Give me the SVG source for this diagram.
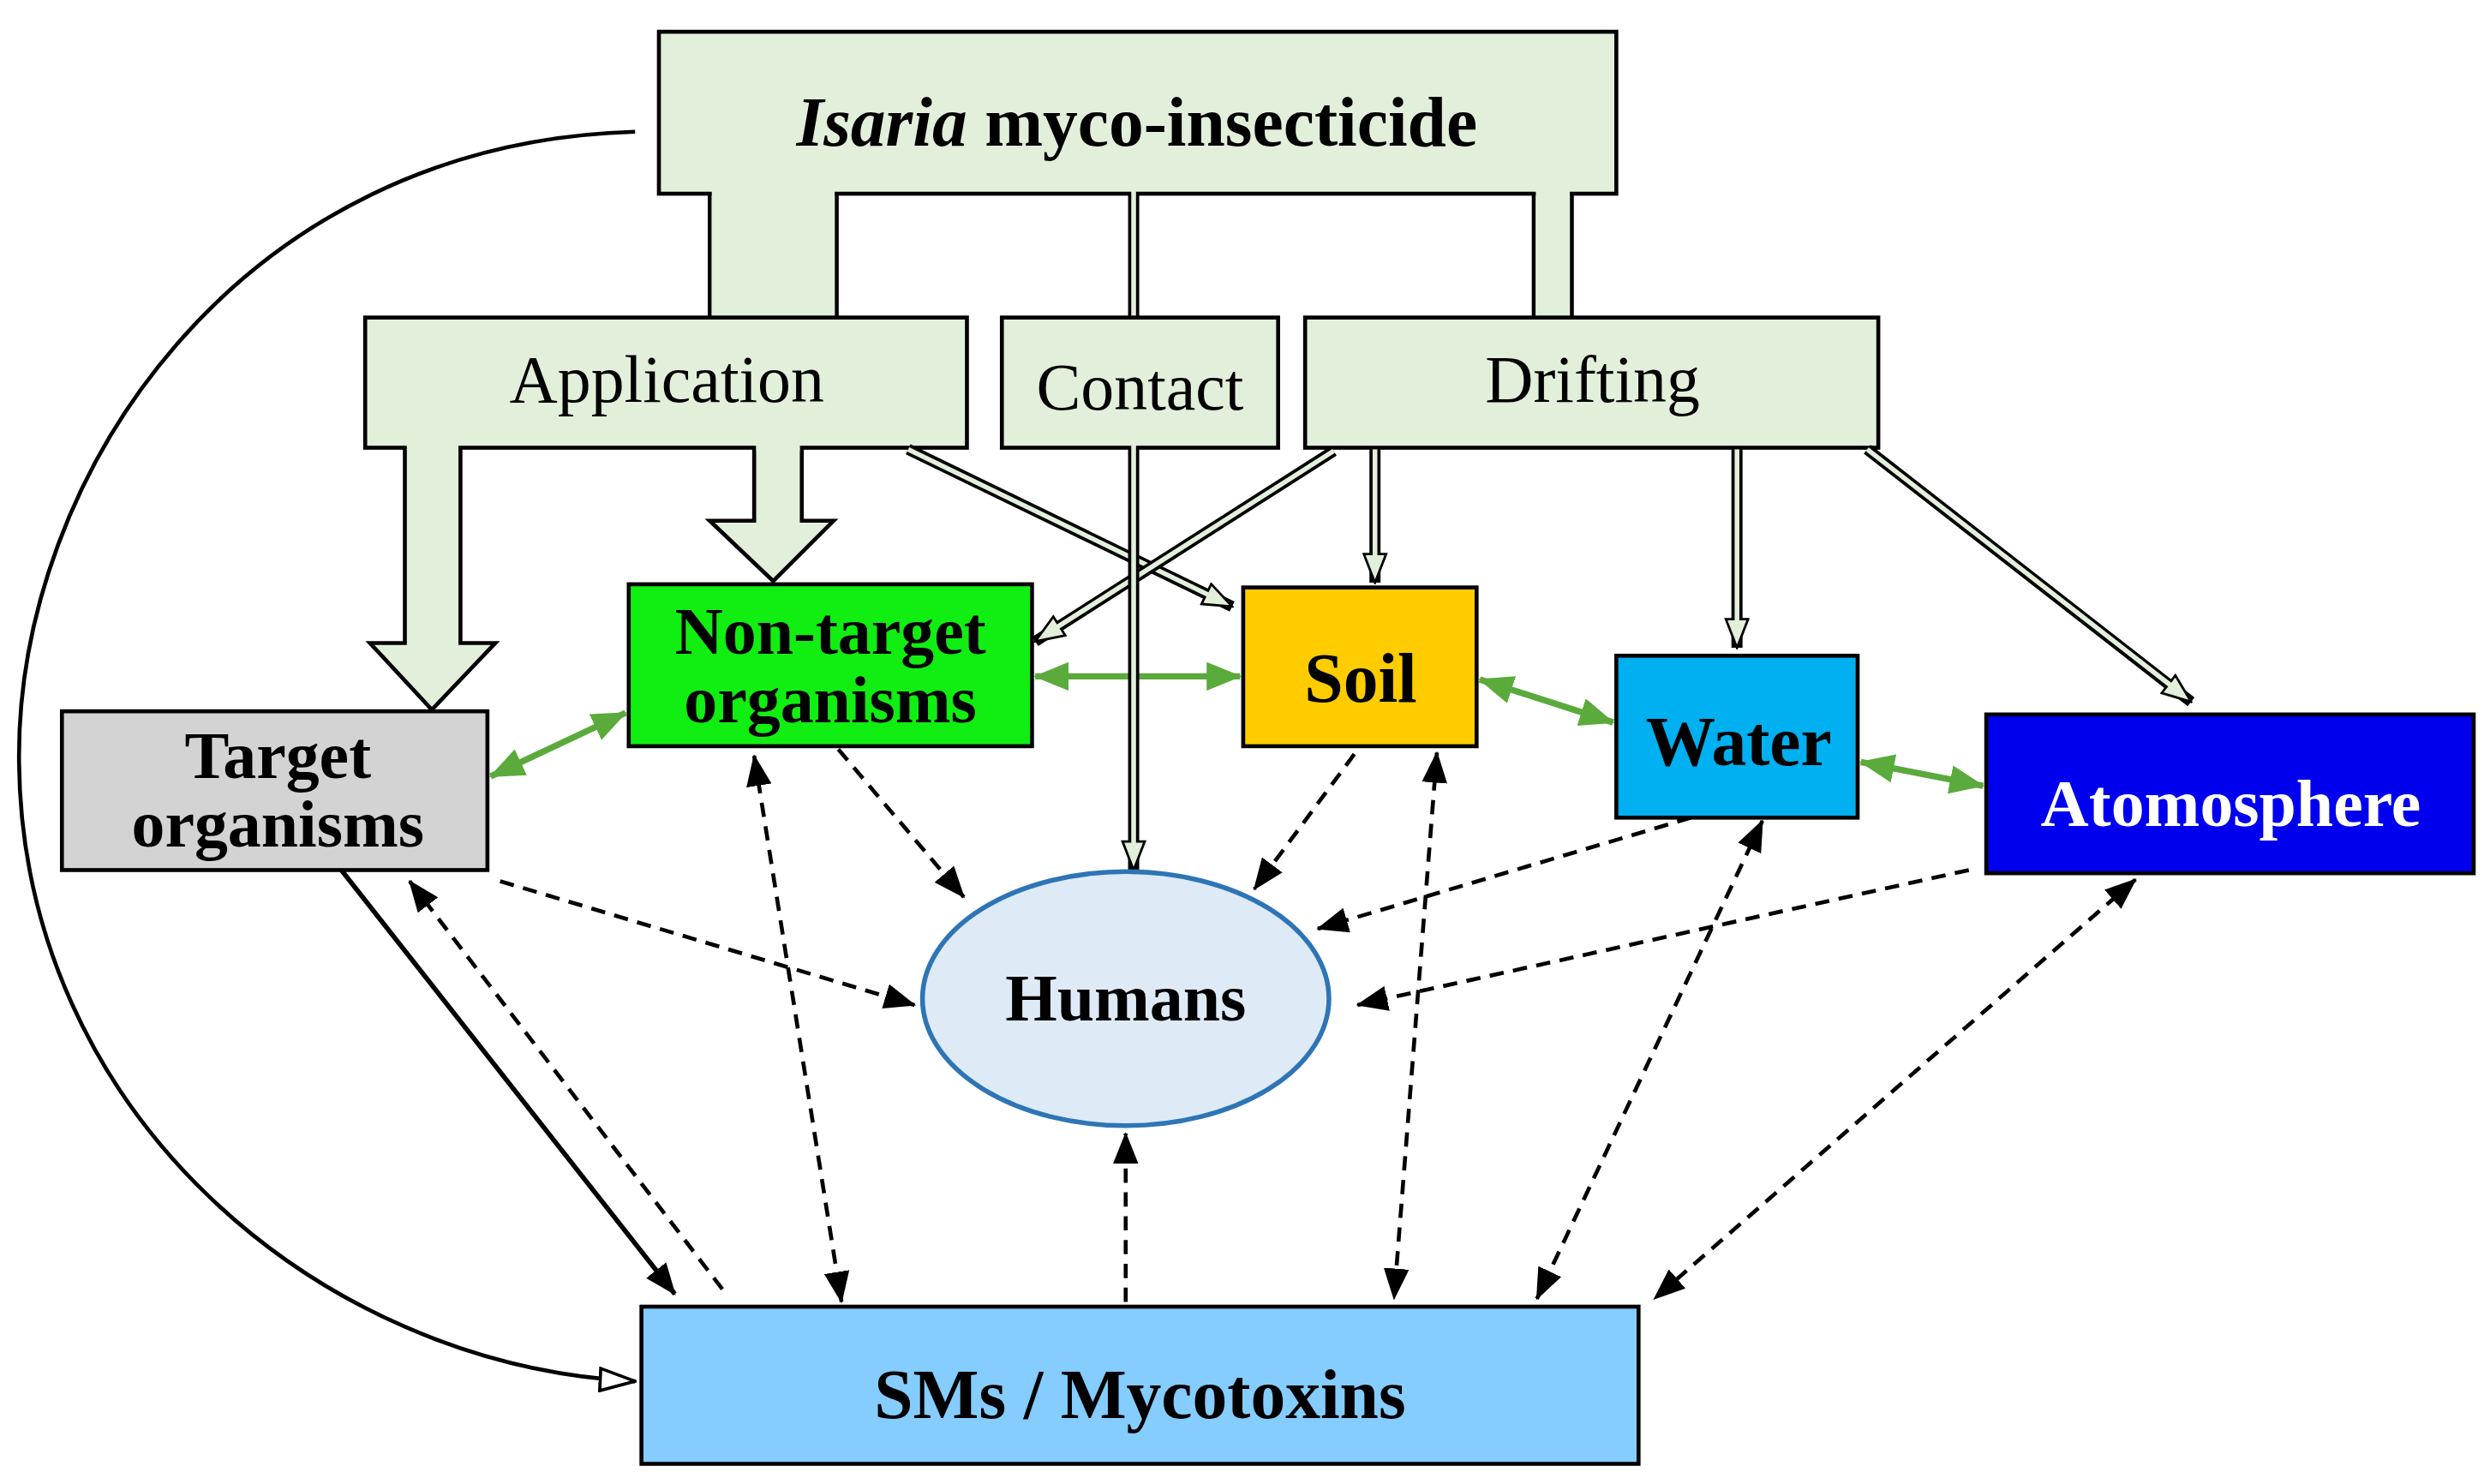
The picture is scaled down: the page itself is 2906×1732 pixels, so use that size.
<svg xmlns="http://www.w3.org/2000/svg" width="2906" height="1732" viewBox="0 0 2906 1732">
<defs>
<style>
.blk{fill:#e2efda;stroke:#000;stroke-width:2.5}
.fl{fill:#e2efda;stroke:none}
.t{font-family:"Liberation Serif",serif;text-anchor:middle}
.b{font-weight:bold}
.ds{fill:none;stroke:#000;stroke-width:2.5;stroke-dasharray:9,6}
.gr{fill:none;stroke:#5aaa3c;stroke-width:4;marker-start:url(#ga);marker-end:url(#ga)}
.h1{fill:none;stroke:#000;stroke-width:7}
.h2{fill:none;stroke:#e2efda;stroke-width:3}
</style>
<marker id="ah" viewBox="0 0 20 16" refX="19" refY="8" markerWidth="20" markerHeight="16" markerUnits="userSpaceOnUse" orient="auto-start-reverse"><path d="M0,0 L20,8 L0,16 Z" fill="#000"/></marker>
<marker id="ga" viewBox="0 0 22 18" refX="21" refY="9" markerWidth="22" markerHeight="18" markerUnits="userSpaceOnUse" orient="auto-start-reverse"><path d="M0,0 L22,9 L0,18 Z" fill="#5aaa3c"/></marker>
<marker id="oh" viewBox="0 0 20 16" refX="19" refY="8" markerWidth="20" markerHeight="16" markerUnits="userSpaceOnUse" orient="auto"><path d="M1,1 L19,8 L1,15 Z" fill="#e2efda" stroke="#000" stroke-width="1.5"/></marker>
<marker id="wh" viewBox="0 0 24 16" refX="23" refY="8" markerWidth="24" markerHeight="16" markerUnits="userSpaceOnUse" orient="auto"><path d="M1,1 L23,8 L1,15 Z" fill="#fff" stroke="#000" stroke-width="2"/></marker>
</defs>
<rect width="2906" height="1732" fill="#fff"/>
<g transform="scale(1.853)">
<g id="connectors">
<path d="M400,83 C150,90 10,300 12,480 C14,700 200,860 400,870" fill="none" stroke="#000" stroke-width="2.5" marker-end="url(#wh)"/>
<line x1="215" y1="548" x2="425" y2="815" stroke="#000" stroke-width="3" marker-end="url(#ah)"/>
<line x1="455" y1="812" x2="258" y2="555" class="ds" marker-end="url(#ah)"/>
<line x1="528" y1="472" x2="607" y2="565" class="ds" marker-end="url(#ah)"/>
<line x1="853" y1="475" x2="790" y2="560" class="ds" marker-end="url(#ah)"/>
<line x1="1065" y1="515" x2="830" y2="585" class="ds" marker-end="url(#ah)"/>
<line x1="1240" y1="548" x2="855" y2="633" class="ds" marker-end="url(#ah)"/>
<line x1="315" y1="555" x2="576" y2="633" class="ds" marker-end="url(#ah)"/>
<line x1="709" y1="820" x2="709" y2="714" class="ds" marker-end="url(#ah)"/>
<line x1="475" y1="476" x2="530" y2="820" class="ds" marker-start="url(#ah)" marker-end="url(#ah)"/>
<line x1="905" y1="474" x2="878" y2="818" class="ds" marker-start="url(#ah)" marker-end="url(#ah)"/>
<line x1="1110" y1="517" x2="968" y2="818" class="ds" marker-start="url(#ah)" marker-end="url(#ah)"/>
<line x1="1345" y1="554" x2="1042" y2="818" class="ds" marker-start="url(#ah)" marker-end="url(#ah)"/>
<line x1="309" y1="489" x2="394" y2="449" class="gr"/>
<line x1="652" y1="426" x2="781" y2="426" class="gr"/>
<line x1="932" y1="428" x2="1016" y2="455" class="gr"/>
<line x1="1172" y1="480" x2="1249" y2="495" class="gr"/>
</g>
<g id="source">
<rect x="415" y="20" width="603" height="102" class="blk"/>
<path d="M447,121 V201 M527,121 V201 M966,121 V201 M990,121 V201" stroke="#000" stroke-width="2.5"/>
<rect x="448.3" y="119" width="77.4" height="84" class="fl"/>
<rect x="967.3" y="119" width="21.4" height="84" class="fl"/>
<line x1="714" y1="122" x2="714" y2="201" class="h1"/><line x1="714" y1="118" x2="714" y2="203" class="h2"/>
<text x="716" y="92" class="t b" font-size="44"><tspan font-style="italic">Isaria</tspan> myco-insecticide</text>
</g>
<g id="application">
<rect x="230" y="200" width="379" height="82" class="blk"/>
<path d="M255,281 V405 H233 L272,447 L312,405 H290 V281" class="blk"/>
<rect x="256.3" y="278" width="32.4" height="6" class="fl"/>
<path d="M475,281 V328 H447 L487,366 L525,328 H505 V281" class="blk"/>
<rect x="476.3" y="278" width="27.4" height="6" class="fl"/>
<line x1="572" y1="283" x2="776" y2="382" class="h1" marker-end="url(#oh)"/><line x1="572" y1="283" x2="770" y2="379" class="h2"/>
<text x="420" y="253" class="t" font-size="42">Application</text>
</g>
<g id="contact">
<rect x="631" y="200" width="174" height="82" class="blk"/>
<text x="718" y="258" class="t" font-size="42">Contact</text>
</g>
<g id="drifting">
<rect x="822" y="200" width="361" height="82" class="blk"/>
<text x="1003" y="253" class="t" font-size="42">Drifting</text>
</g>
<g id="drift-arrows">
<line x1="840" y1="284" x2="652" y2="404" class="h1" marker-end="url(#oh)"/><line x1="840" y1="284" x2="658" y2="400" class="h2"/>
<line x1="866" y1="283" x2="866" y2="367" class="h1" marker-end="url(#oh)"/><line x1="866" y1="283" x2="866" y2="360" class="h2"/>
<line x1="1094" y1="283" x2="1094" y2="408" class="h1" marker-end="url(#oh)"/><line x1="1094" y1="283" x2="1094" y2="401" class="h2"/>
<line x1="1176" y1="283" x2="1380" y2="442" class="h1" marker-end="url(#oh)"/><line x1="1176" y1="283" x2="1374" y2="437" class="h2"/>
<line x1="714" y1="282" x2="714" y2="548" class="h1" marker-end="url(#oh)"/><line x1="714" y1="278" x2="714" y2="541" class="h2"/>
</g>
<g id="target">
<rect x="39" y="448" width="268" height="100" fill="#d3d3d3" stroke="#000" stroke-width="2.5"/>
<text x="175" y="490" class="t b" font-size="42">Target</text><text x="175" y="533" class="t b" font-size="42">organisms</text>
</g>
<g id="nontarget">
<rect x="396" y="368" width="254" height="102" fill="#11ee11" stroke="#000" stroke-width="2.5"/>
<text x="523" y="412" class="t b" font-size="42">Non-target</text><text x="523" y="455" class="t b" font-size="42">organisms</text>
</g>
<g id="soil">
<rect x="783" y="370" width="147" height="100" fill="#ffcc00" stroke="#000" stroke-width="2.5"/>
<text x="857" y="442" class="t b" font-size="44">Soil</text>
</g>
<g id="water">
<rect x="1018" y="413" width="152" height="102" fill="#00b0f0" stroke="#000" stroke-width="2.5"/>
<text x="1095" y="482" class="t b" font-size="44">Water</text>
</g>
<g id="atmosphere">
<rect x="1251" y="450" width="307" height="100" fill="#0000ee" stroke="#000" stroke-width="2.5"/>
<text x="1405" y="520" class="t b" font-size="42" fill="#fff">Atomosphere</text>
</g>
<g id="humans">
<ellipse cx="709" cy="629" rx="128" ry="80" fill="#deebf7" stroke="#2e75b6" stroke-width="3"/>
<text x="709" y="643" class="t b" font-size="42">Humans</text>
</g>
<g id="sms">
<rect x="404" y="823" width="628" height="99" fill="#85ccff" stroke="#000" stroke-width="2.5"/>
<text x="718" y="893" class="t b" font-size="44">SMs / Mycotoxins</text>
</g>
</g>
</svg>
